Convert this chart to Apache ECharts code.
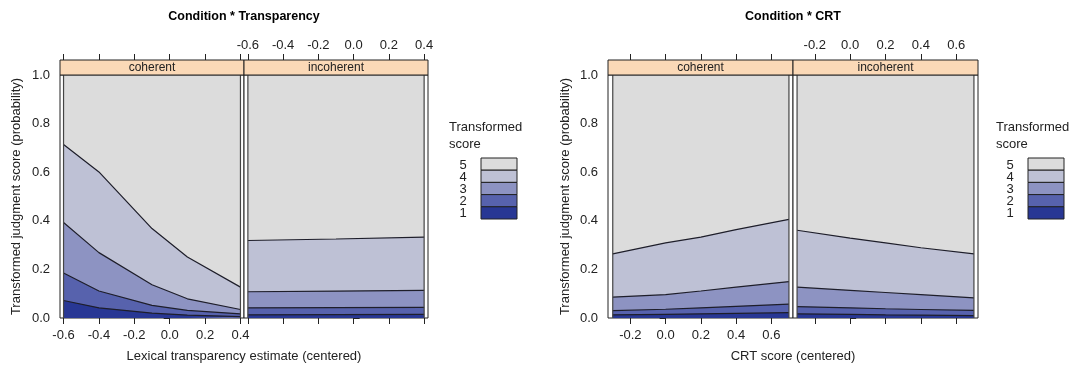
<!DOCTYPE html>
<html><head><meta charset="utf-8">
<script src="https://cdn.jsdelivr.net/npm/echarts@6/dist/echarts.min.js"></script>
<style>html,body{margin:0;padding:0;background:#fff}#c{width:1086px;height:366px}</style>
</head><body><div id="c"></div>
<script>
// ---------- data ----------
const scoreLevels = ['1', '2', '3', '4', '5'];
const panelNames = ['coherent', 'incoherent'];
const chartTitles = ['Condition * Transparency', 'Condition * CRT'];
const xAxisTitles = ['Lexical transparency estimate (centered)', 'CRT score (centered)'];
const yAxisTitle = 'Transformed judgment score (probability)';
const legendTitle = 'Transformed\nscore';
const transTicks = [-0.6, -0.4, -0.2, 0.0, 0.2, 0.4];
const crtTicks = [-0.2, 0.0, 0.2, 0.4, 0.6];
const probTicks = [0, 0.2, 0.4, 0.6, 0.8, 1.0];

// cumulative probabilities P(score <= k), k = 1..4
const transX_coh = [-0.6, -0.4, -0.1, 0.1, 0.4];
const transCoh_le1 = [0.072, 0.042, 0.020, 0.012, 0.006];
const transCoh_le2 = [0.185, 0.111, 0.052, 0.031, 0.017];
const transCoh_le3 = [0.393, 0.269, 0.137, 0.079, 0.035];
const transCoh_le4 = [0.714, 0.601, 0.368, 0.251, 0.127];

const transX_inc = [-0.6, -0.1, 0.4];
const transInc_le1 = [0.013, 0.014, 0.015];
const transInc_le2 = [0.042, 0.043, 0.044];
const transInc_le3 = [0.108, 0.111, 0.114];
const transInc_le4 = [0.319, 0.325, 0.333];

const crtX = [-0.3, 0.0, 0.2, 0.4, 0.7];
const crtCoh_le1 = [0.013, 0.015, 0.017, 0.019, 0.022];
const crtCoh_le2 = [0.030, 0.036, 0.042, 0.048, 0.057];
const crtCoh_le3 = [0.086, 0.096, 0.111, 0.127, 0.150];
const crtCoh_le4 = [0.264, 0.309, 0.333, 0.364, 0.406];

const crtInc_le1 = [0.017, 0.015, 0.013, 0.012, 0.010];
const crtInc_le2 = [0.047, 0.042, 0.038, 0.035, 0.031];
const crtInc_le3 = [0.127, 0.114, 0.105, 0.096, 0.083];
const crtInc_le4 = [0.361, 0.329, 0.309, 0.289, 0.264];

// ---------- styles ----------
const levelColors = ['#283794', '#5762AD', '#8D93C2', '#BEC1D5', '#DCDCDC'];
const ink = '#222';
const lineInk = '#1e1e2a';
const stripFill = '#FBD9B7';
const FONT = '"Liberation Sans", Arial, Helvetica, sans-serif';

const panels = [
  { left: 60, width: 184, xmin: -0.62, xmax: 0.42, ticks: transTicks, xs: transX_coh,
    cum: [transCoh_le1, transCoh_le2, transCoh_le3, transCoh_le4], pos: 'first' },
  { left: 244, width: 184, xmin: -0.622, xmax: 0.422, ticks: transTicks, xs: transX_inc,
    cum: [transInc_le1, transInc_le2, transInc_le3, transInc_le4], pos: 'second' },
  { left: 608, width: 185, xmin: -0.327, xmax: 0.723, ticks: crtTicks, xs: crtX,
    cum: [crtCoh_le1, crtCoh_le2, crtCoh_le3, crtCoh_le4], pos: 'first' },
  { left: 793, width: 185, xmin: -0.323, xmax: 0.723, ticks: crtTicks, xs: crtX,
    cum: [crtInc_le1, crtInc_le2, crtInc_le3, crtInc_le4], pos: 'second' }
];

const TOP = 75, H = 243, STRIP = 15;
const grid = [], xAxis = [], yAxis = [], series = [], graphic = [];
const fmt = v => Number(v).toFixed(1);

panels.forEach((p, gi) => {
  grid.push({ left: p.left, top: TOP, width: p.width, height: H, show: true,
    backgroundColor: '#fff', borderColor: ink, borderWidth: 1 });
  const first = p.pos === 'first';
  const baseX = { type: 'value', gridIndex: gi, min: p.xmin, max: p.xmax,
    axisLine: { show: false }, splitLine: { show: false },
    axisTick: { show: true, inside: false, length: 6, lineStyle: { color: ink }, customValues: p.ticks },
    axisLabel: { fontFamily: FONT, fontSize: 13, color: ink, formatter: fmt, customValues: p.ticks } };
  // bottom axis
  xAxis.push(Object.assign({}, baseX, { position: 'bottom',
    axisLabel: Object.assign({}, baseX.axisLabel, { show: first, margin: 11 }) }));
  // top axis (at strip top)
  xAxis.push(Object.assign({}, baseX, { position: 'top', offset: STRIP,
    axisLabel: Object.assign({}, baseX.axisLabel, { show: !first, margin: 8 }) }));
  yAxis.push({ type: 'value', gridIndex: gi, min: 0, max: 1, interval: 0.2,
    position: first ? 'left' : 'right',
    axisLine: { show: false }, splitLine: { show: false },
    axisTick: { show: true, inside: false, length: 6, lineStyle: { color: ink } },
    axisLabel: { show: first, fontFamily: FONT, fontSize: 13, color: ink, margin: 10, formatter: fmt },
    name: first ? yAxisTitle : '', nameLocation: 'middle', nameGap: gi === 0 ? 37 : 36,
    nameTextStyle: { fontFamily: FONT, fontSize: 13, color: ink } });

  const xa = gi * 2, ya = gi;
  const x0 = p.xs[0], xn = p.xs[p.xs.length - 1];
  // level 5: full region
  series.push({ type: 'line', xAxisIndex: xa, yAxisIndex: ya, data: [[x0, 1], [xn, 1]],
    showSymbol: false, silent: true, lineStyle: { width: 0 },
    areaStyle: { color: levelColors[4], opacity: 1 }, z: 2 });
  for (let k = 3; k >= 0; k--) {
    series.push({ type: 'line', xAxisIndex: xa, yAxisIndex: ya, name: scoreLevels[k],
      data: p.xs.map((x, i) => [x, p.cum[k][i]]),
      showSymbol: false, silent: true,
      lineStyle: { color: lineInk, width: 1.2 },
      areaStyle: { color: levelColors[k], opacity: 1 }, z: 3 });
  }
  // outline of the polygon
  series.push({ type: 'line', xAxisIndex: xa, yAxisIndex: ya,
    data: [[x0, 0], [x0, 1], [xn, 1], [xn, 0]], showSymbol: false, silent: true,
    lineStyle: { color: '#444', width: 1.2 }, z: 4 });

  // strip
  graphic.push({ type: 'rect', shape: { x: p.left, y: TOP - STRIP, width: p.width, height: STRIP },
    style: { fill: stripFill, stroke: ink, lineWidth: 1 }, z: 10 });
  graphic.push({ type: 'text', x: p.left + p.width / 2, y: TOP - STRIP / 2 + 0.5,
    style: { text: panelNames[gi % 2], font: '12px ' + FONT, fill: ink, align: 'center', verticalAlign: 'middle' }, z: 11 });
});

// titles, x axis titles, legends
const chartCenters = [244, 793];
const legendX = [449, 996];
chartCenters.forEach((cx, ci) => {
  graphic.push({ type: 'text', x: cx, y: 17,
    style: { text: chartTitles[ci], font: 'bold 12.5px ' + FONT, fill: '#000', align: 'center', verticalAlign: 'middle' } });
  graphic.push({ type: 'text', x: cx, y: 356,
    style: { text: xAxisTitles[ci], font: '13px ' + FONT, fill: ink, align: 'center', verticalAlign: 'middle' } });
  const lx = legendX[ci];
  graphic.push({ type: 'text', x: lx, y: 119,
    style: { text: legendTitle, font: '13px ' + FONT, fill: ink, align: 'left', verticalAlign: 'top', lineHeight: 17 } });
  const bx = lx + 32, by = 158, bw = 36, bh = 12.2;
  for (let j = 0; j < 5; j++) {
    const lev = 4 - j; // top box = level 5
    graphic.push({ type: 'rect', shape: { x: bx, y: by + j * bh, width: bw, height: bh },
      style: { fill: levelColors[lev], stroke: ink, lineWidth: 1 } });
    graphic.push({ type: 'text', x: lx + 14, y: by + j * bh + bh / 2 + 1,
      style: { text: scoreLevels[lev], font: '13px ' + FONT, fill: ink, align: 'center', verticalAlign: 'middle' } });
  }
});

const chart = echarts.init(document.getElementById('c'), null, { renderer: 'canvas' });
chart.setOption({ animation: false, backgroundColor: '#fff', grid, xAxis, yAxis, series, graphic });
</script>
</body></html>
